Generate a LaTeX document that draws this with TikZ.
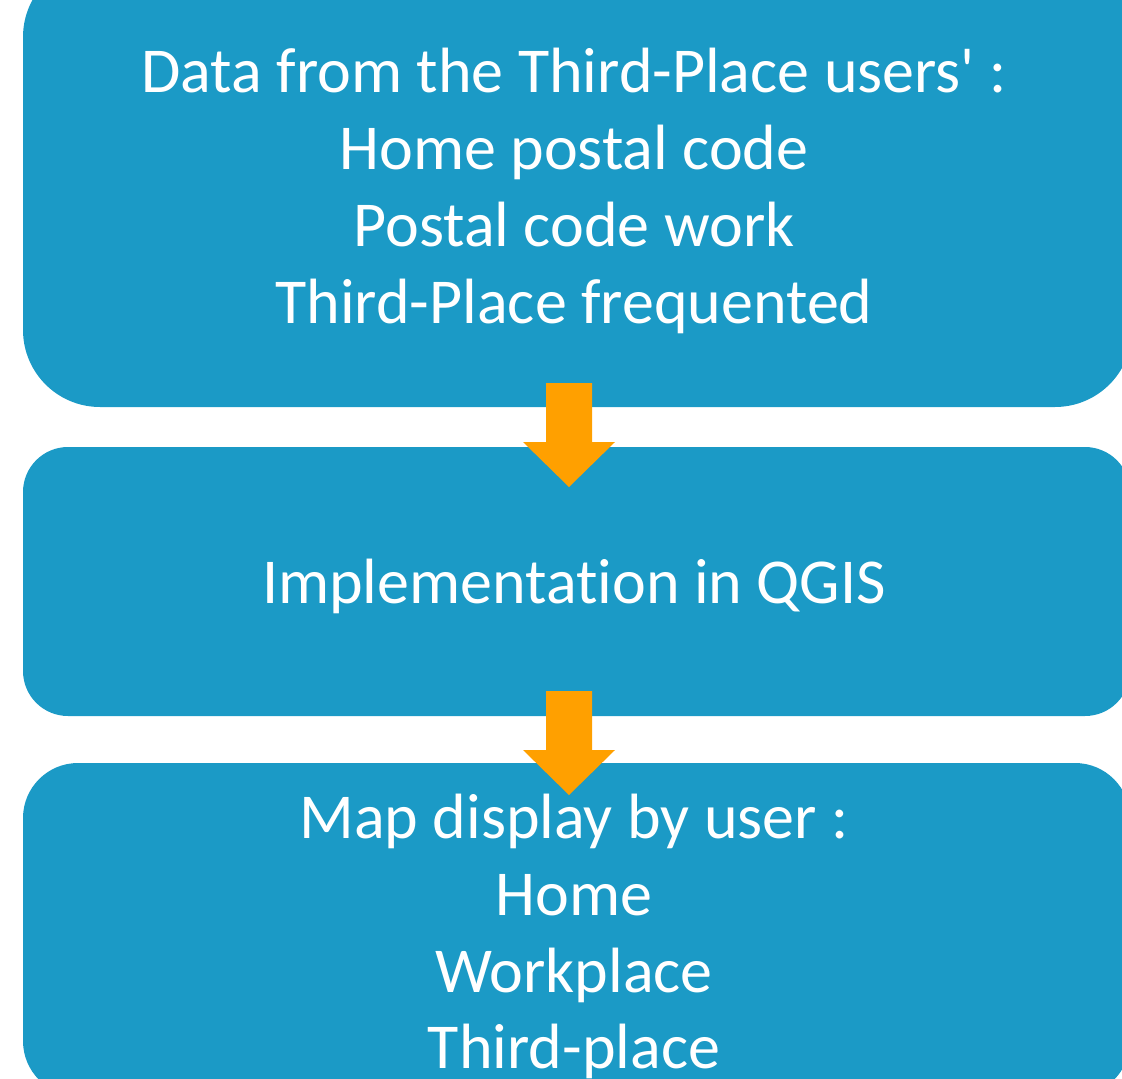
\documentclass[tikz,border=0pt]{standalone}
\usepackage{fontspec}
\newfontfamily\calfont{Carlito}[Ligatures=NoCommon]
\definecolor{boxblue}{RGB}{27,154,198}
\definecolor{arroworange}{RGB}{255,160,0}
\begin{document}
\begin{tikzpicture}[x=1pt,y=-1pt,
  flowbox/.style={fill=boxblue,draw=none,inner sep=0pt,rectangle},
  txt/.style={text=white,anchor=base,inner sep=0pt,font=\calfont\fontsize{64}{77}\selectfont},
  blockarrow/.style={fill=arroworange,draw=none}]
\useasboundingbox (0,0) rectangle (1122,1079);
\clip (0,0) rectangle (1122,1079);
% boxes
\node[flowbox,rounded corners=77pt,minimum width=1109pt,minimum height=447pt] (b1) at (577.5,183.5) {};
\node[flowbox,rounded corners=45pt,minimum width=1107pt,minimum height=269pt] (b2) at (576.5,581.5) {};
\node[flowbox,rounded corners=55pt,minimum width=1107pt,minimum height=333pt] (b3) at (576.5,929.5) {};
% texts
\node[txt] (t1) at (574,92) {Data from the Third-Place users' :};
\node[txt] (t2) at (574,169) {Home postal code};
\node[txt] (t3) at (574,246) {Postal code work};
\node[txt] (t4) at (574,323) {Third-Place frequented};
\node[txt] (t5) at (574,603) {Implementation in QGIS};
\node[txt] (t6) at (574,838) {Map display by user :};
\node[txt] (t7) at (574,915) {Home};
\node[txt] (t8) at (574,992) {Workplace};
\node[txt] (t9) at (574,1068) {Third-place};
% arrows
\coordinate (a1) at (569,383);
\coordinate (a2) at (569,691);
\foreach \a in {a1,a2}{
  \fill[blockarrow] (\a) ++(-23,0) -- ++(46,0) -- ++(0,59) -- ++(23,0) -- ++(-46,45) -- ++(-46,-45) -- ++(23,0) -- cycle;
}
\end{tikzpicture}
\end{document}
